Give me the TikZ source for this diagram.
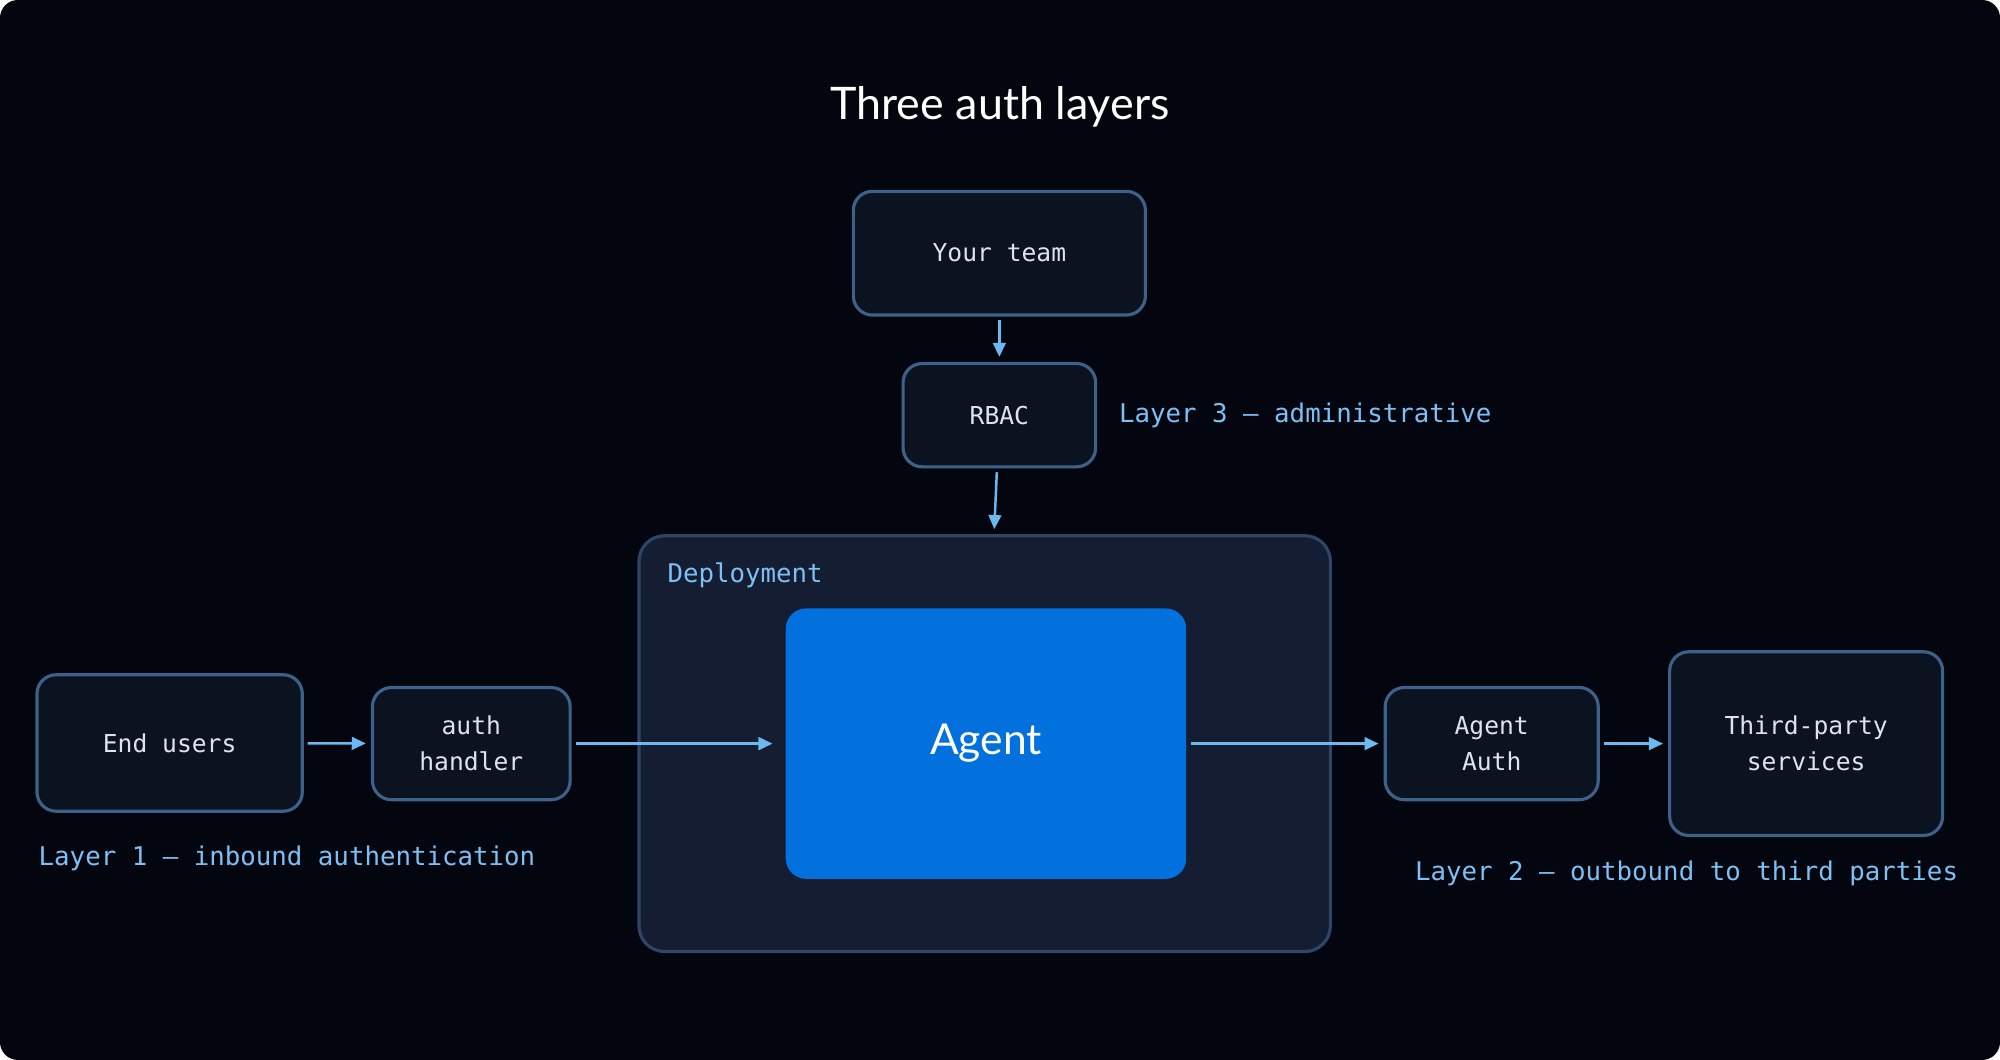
\documentclass[tikz,border=0pt]{standalone}
\usepackage{fontspec}
\setmainfont{Lato}
\newfontfamily\monofont{DejaVu Sans Mono}
\usetikzlibrary{arrows.meta,positioning}
\definecolor{bgdark}{HTML}{03060F}
\definecolor{boxfill}{HTML}{0B1220}
\definecolor{boxline}{HTML}{3D6189}
\definecolor{depfill}{HTML}{141D31}
\definecolor{depline}{HTML}{2E4566}
\definecolor{agentblue}{HTML}{0270DD}
\definecolor{boxtext}{HTML}{DCE4F0}
\definecolor{layertext}{HTML}{7CC0F5}
\definecolor{arrowblue}{HTML}{6CB8F0}
\newcommand\px{0.02cm}
\tikzset
{
    block/.style = {rectangle, rounded corners=0.3cm, draw=boxline, fill=boxfill, line width=1.4pt, align=center, text=boxtext, font=\monofont\fontsize{11}{16}\selectfont},
    layer/.style = {anchor=west, text=layertext, font=\monofont\fontsize{11.5}{14}\selectfont, inner sep=0pt},
    arrow/.style = {-{Triangle[length=0.22cm,width=0.2cm]}, draw=arrowblue, line width=1.1pt, shorten >=0.08cm, shorten <=0.06cm}
}
\begin{document}
\begin{tikzpicture}[x=0.02cm, y=-0.02cm]
\fill[bgdark, rounded corners=0.28cm] (0,0) rectangle (1568,831);
\node(title) [text=white, font=\fontsize{20}{24}\selectfont] at (784,84) {Three auth layers};
% top
\node(team) [block, minimum width=229*\px, minimum height=97*\px] at (783.5,198.5) {Your team};
\node(rbac) [block, minimum width=151*\px, minimum height=81*\px] at (783.5,325.5) {RBAC};
\node(l3) [layer] at (877,326) {Layer 3 — administrative};
% deployment
\node(dep) [rectangle, rounded corners=0.4cm, draw=depline, fill=depfill, line width=1.4pt, minimum width=542*\px, minimum height=326*\px] at (772,583) {};
\node(deplabel) [layer, anchor=west] at (523,451) {Deployment};
\node(agent) [rectangle, rounded corners=0.32cm, fill=agentblue, text=white, minimum width=314*\px, minimum height=212*\px, font=\fontsize{19}{22}\selectfont] at (773,583) {Agent};
% left
\node(users) [block, minimum width=208*\px, minimum height=107*\px] at (133,582.5) {End users};
\node(handler) [block, minimum width=155*\px, minimum height=88*\px] at (369.5,583) {auth\\handler};
\node(l1) [layer] at (30,673) {Layer 1 — inbound authentication};
% right
\node(aauth) [block, minimum width=167*\px, minimum height=88*\px] at (1169.5,583) {Agent\\Auth};
\node(third) [block, minimum width=214*\px, minimum height=144*\px] at (1416,583) {Third-party\\services};
\node(l2) [layer] at (1109,685) {Layer 2 — outbound to third parties};
\draw[arrow] (team) -- (rbac);
\draw[arrow] (rbac) -- (dep);
\draw[arrow] (users) -- (handler);
\draw[arrow, shorten >=0.2cm] (handler) -- (agent);
\draw[arrow] (agent) -- (aauth);
\draw[arrow] (aauth) -- (third);
\end{tikzpicture}
\end{document}
